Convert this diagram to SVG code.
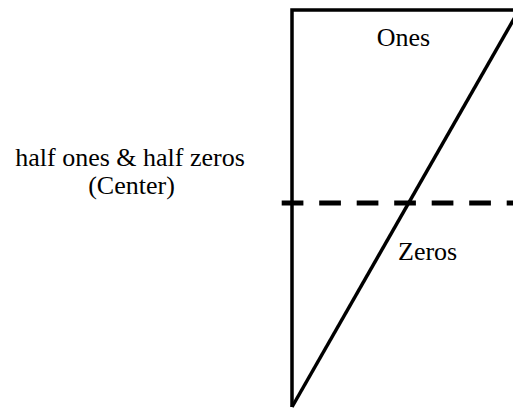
<svg xmlns="http://www.w3.org/2000/svg" width="513" height="409" viewBox="0 0 513 409">
<style>
.ln{stroke:#000;stroke-width:3.5;fill:none;stroke-linecap:butt}
text{font-family:"Liberation Serif","Times New Roman",Times,serif;font-size:26px;fill:#000}
</style>
<rect width="513" height="409" fill="#fff"/>
<g id="shape">
<polyline class="ln" points="520,10 292,10 292,407"/>
<line class="ln" x1="292" y1="407" x2="519" y2="10"/>
</g>
<g id="connectors">
<line x1="281.7" y1="203" x2="513" y2="203" stroke="#000" stroke-width="5" stroke-dasharray="21.7,15.8"/>
</g>
<g id="ones"><text x="403.5" y="46" text-anchor="middle">Ones</text></g>
<g id="zeros"><text x="398" y="260">Zeros</text></g>
<g id="center"><text x="130" y="166" text-anchor="middle">half ones &amp; half zeros</text>
<text x="131.5" y="194" text-anchor="middle">(Center)</text></g>
</svg>
